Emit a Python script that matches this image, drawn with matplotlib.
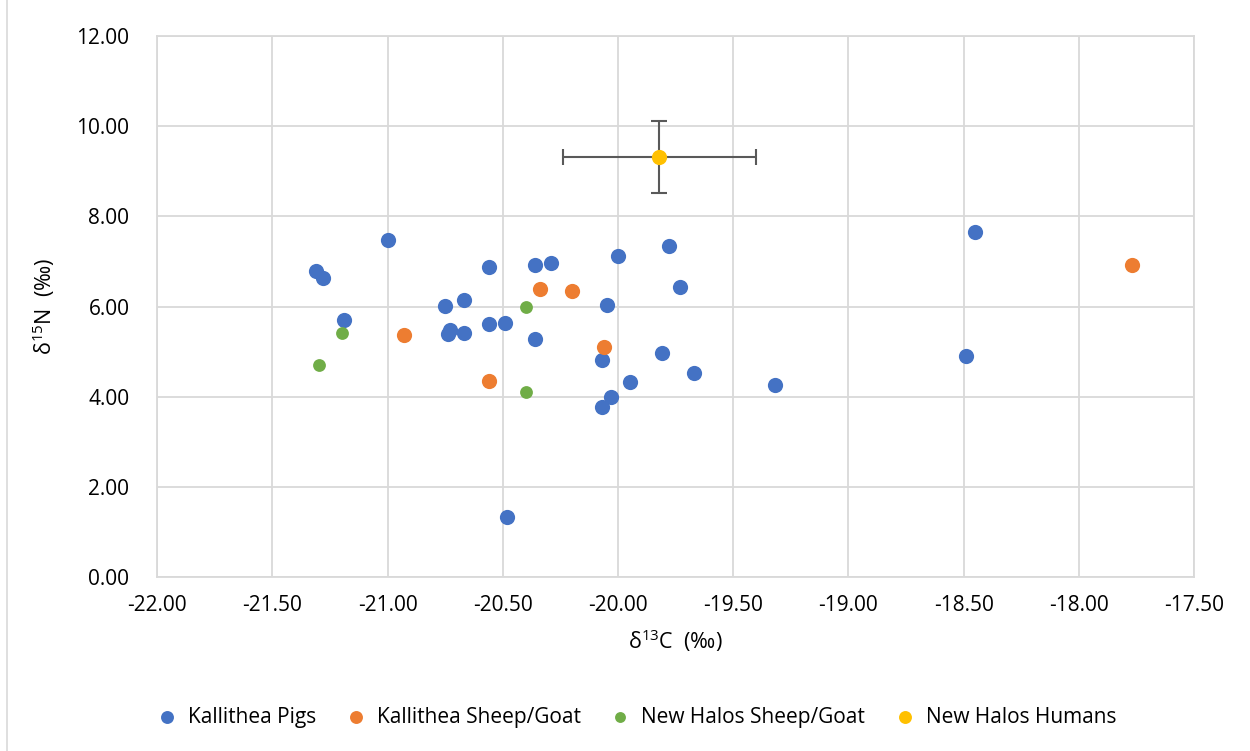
import matplotlib.pyplot as plt
from matplotlib.patches import Rectangle

plt.rcParams['font.family'] = ['Open Sans', 'DejaVu Sans']
plt.rcParams['mathtext.fontset'] = 'custom'
plt.rcParams['mathtext.rm'] = 'Open Sans'

# Kallithea pigs
pigs_c = [-21.00, -21.31, -21.28, -21.19, -20.75, -20.67, -20.73, -20.74, -20.67,
          -20.56, -20.56, -20.49, -20.36, -20.29, -20.36, -20.00, -19.78, -19.73,
          -20.05, -20.07, -19.81, -19.67, -19.95, -20.03, -20.07, -19.32, -18.45,
          -18.49, -20.48]
pigs_n = [7.48, 6.78, 6.64, 5.69, 6.02, 6.14, 5.48, 5.39, 5.41,
          6.87, 5.61, 5.63, 6.93, 6.97, 5.29, 7.11, 7.34, 6.44,
          6.03, 4.82, 4.96, 4.53, 4.33, 3.99, 3.76, 4.27, 7.66,
          4.90, 1.34]

# Kallithea sheep/goat
ks_c = [-20.34, -20.20, -20.93, -20.06, -20.56, -17.77]
ks_n = [6.39, 6.35, 5.37, 5.10, 4.35, 6.93]

# New Halos sheep/goat
nh_c = [-20.40, -21.20, -21.30, -20.40]
nh_n = [6.00, 5.41, 4.70, 4.10]

# New Halos humans (mean +/- sd)
hum_c = [-19.82]
hum_n = [9.32]
hum_c_err = [0.42]
hum_n_err = [0.80]

fig = plt.figure(figsize=(12.5, 7.51), dpi=100)
ax = fig.add_axes([0.1258, 0.2317, 0.8294, 0.7203])

# outer chart border
fig.patches.append(Rectangle((0.0056, -0.01), 1.0, 1.02, transform=fig.transFigure,
                             fill=False, edgecolor='#D9D9D9', linewidth=1.2))

ax.errorbar(hum_c, hum_n, xerr=hum_c_err, yerr=hum_n_err, fmt='none',
            ecolor='#595959', elinewidth=1.5, capsize=6, capthick=1.5, zorder=2)

ax.scatter(pigs_c, pigs_n, s=120, color='#4472C4', label='Kallithea Pigs', zorder=3, linewidths=0)
ax.scatter(ks_c, ks_n, s=120, color='#ED7D31', label='Kallithea Sheep/Goat', zorder=3, linewidths=0)
ax.scatter(nh_c, nh_n, s=85, color='#70AD47', label='New Halos Sheep/Goat', zorder=3, linewidths=0)
ax.scatter(hum_c, hum_n, s=120, color='#FFC000', label='New Halos Humans', zorder=4, linewidths=0)

ax.set_xlim(-22, -17.5)
ax.set_ylim(0, 12)
xt = [-22 + 0.5 * i for i in range(10)]
yt = [2 * i for i in range(7)]
ax.set_xticks(xt)
ax.set_yticks(yt)
ax.set_xticklabels([f'{v:.2f}' for v in xt])
ax.set_yticklabels([f'{v:.2f}' for v in yt])
ax.tick_params(length=0, labelsize=15, pad=13, colors='#000000')
ax.tick_params(axis='y', pad=20)
ax.grid(True, color='#D9D9D9', linewidth=1.3)
ax.set_axisbelow(True)
for s in ax.spines.values():
    s.set_color('#D9D9D9')
    s.set_linewidth(1.3)

ax.set_xlabel(r'δ$^{13}$C  (‰)', fontsize=15.5, labelpad=8)
ax.set_ylabel(r'δ$^{15}$N  (‰)', fontsize=15.5, labelpad=14)

fig.legend(loc='center', bbox_to_anchor=(0.505, 0.045), ncol=4, frameon=False,
           fontsize=15, handletextpad=0.0, columnspacing=0.9, markerscale=0.85)

fig.savefig('out.png', dpi=100)
